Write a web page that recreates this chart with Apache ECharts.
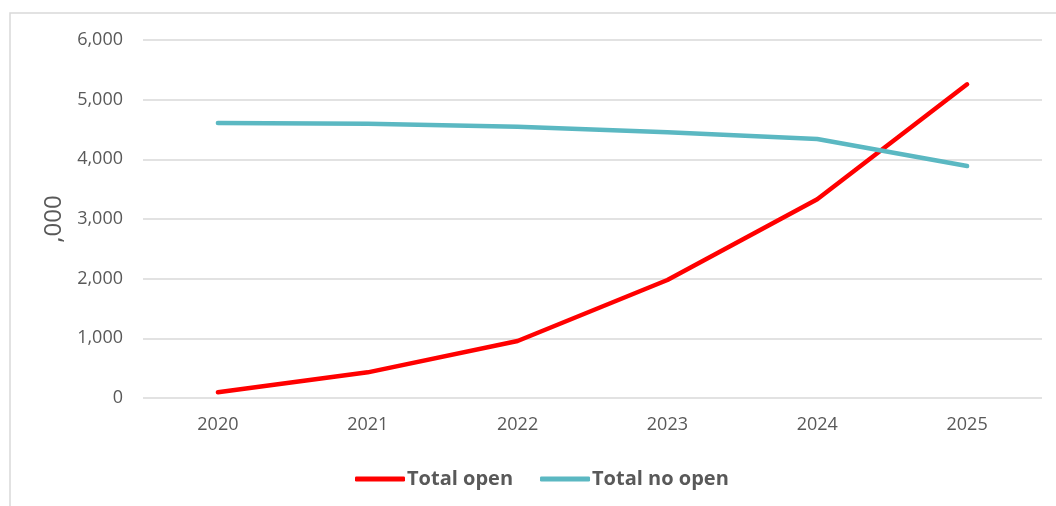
<!DOCTYPE html>
<html>
<head>
<meta charset="utf-8">
<style>
  html, body { margin: 0; padding: 0; background: #ffffff; }
  #chart { width: 1056px; height: 506px; }
</style>
<script src="https://cdn.jsdelivr.net/npm/echarts@6/dist/echarts.min.js"></script>
</head>
<body>
<div id="chart"></div>
<script>
// Years on the category axis
const years = ['2020', '2021', '2022', '2023', '2024', '2025'];
// Series values, in thousands
const totalOpen = [96, 430, 955, 1978, 3330, 5257];
const totalNoOpen = [4609, 4597, 4547, 4453, 4341, 3888];
// Value axis settings
const yMin = 0;
const yMax = 6000;
const yStep = 1000;
const yAxisTitle = ',000';

const font = '"Open Sans", "Noto Sans", sans-serif';
const textColor = '#595959';

const chart = echarts.init(document.getElementById('chart'), null, { renderer: 'canvas' });

chart.setOption({
  backgroundColor: '#ffffff',
  animation: false,
  graphic: [{
    type: 'rect',
    silent: true,
    shape: { x: 10, y: 13, width: 1200, height: 700 },
    style: { fill: 'none', stroke: '#d9d9d9', lineWidth: 1.5 }
  }],
  grid: { left: 143, right: 14, top: 40, bottom: 108, containLabel: false },
  legend: {
    left: 350,
    top: 464,
    itemWidth: 50,
    itemHeight: 5,
    itemGap: 27,
    icon: 'roundRect',
    textStyle: { fontFamily: font, fontSize: 20, fontWeight: 'bold', color: textColor, padding: [0, 0, 0, -3] },
    data: ['Total open', 'Total no open']
  },
  xAxis: {
    type: 'category',
    data: years,
    boundaryGap: true,
    axisLine: { show: false },
    axisTick: { show: false },
    axisLabel: { color: textColor, fontFamily: font, fontSize: 18, margin: 18 }
  },
  yAxis: {
    type: 'value',
    min: yMin,
    max: yMax,
    interval: yStep,
    name: yAxisTitle,
    nameLocation: 'middle',
    nameGap: 76,
    nameTextStyle: { color: textColor, fontFamily: font, fontSize: 24 },
    axisLine: { show: false },
    axisTick: { show: false },
    axisLabel: {
      color: textColor, fontFamily: font, fontSize: 18, margin: 20,
      formatter: v => v.toLocaleString('en-US')
    },
    splitLine: { lineStyle: { color: '#d9d9d9', width: 1.5 } }
  },
  series: [
    {
      name: 'Total open',
      type: 'line',
      data: totalOpen,
      symbol: 'none',
      color: '#ff0000',
      lineStyle: { width: 4.5, color: '#ff0000', cap: 'round', join: 'round' }
    },
    {
      name: 'Total no open',
      type: 'line',
      data: totalNoOpen,
      symbol: 'none',
      color: '#5bb8c2',
      lineStyle: { width: 4.5, color: '#5bb8c2', cap: 'round', join: 'round' }
    }
  ]
});
</script>
</body>
</html>
